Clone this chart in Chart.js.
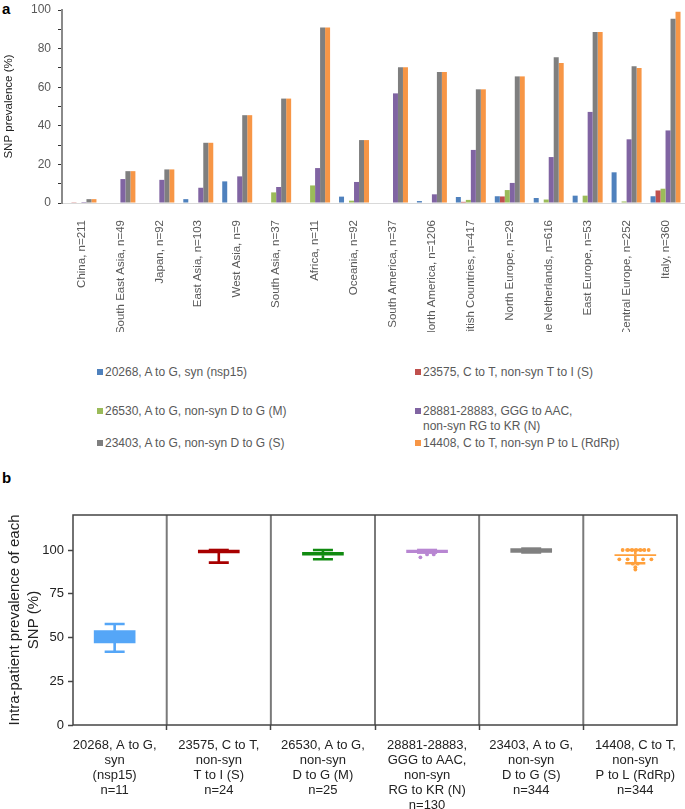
<!DOCTYPE html>
<html>
<head>
<meta charset="utf-8">
<script src="https://cdn.jsdelivr.net/npm/chart.js@4.4.1/dist/chart.umd.min.js"></script>
<style>
  body { margin: 0; background: #fff; width: 685px; height: 809px; position: relative; overflow: hidden;
         font-family: "Liberation Sans", Arial, sans-serif; }
  .panel { position: absolute; left: 0; width: 685px; }
  .tag { position: absolute; left: 2px; font-weight: bold; font-size: 15px; color: #000; }
  .lg { position: absolute; font-size: 12px; color: #595959; line-height: 15px; white-space: nowrap; }
  .lg i { position: absolute; left: -8px; top: 4px; width: 6px; height: 6px; }
</style>
</head>
<body>
<div class="tag" style="top:0">a</div>
<div class="tag" style="top:469px">b</div>
<div class="panel" style="top:0;height:332px"><canvas id="chartA"></canvas></div>
<div id="legend"></div>
<div class="panel" style="top:480px;height:329px"><canvas id="chartB"></canvas></div>

<script>
// ── Panel a: SNP prevalence per region ──────────────────────────
const regions = ['China, n=211', 'South East Asia, n=49', 'Japan, n=92', 'East Asia, n=103',
  'West Asia, n=9', 'South Asia, n=37', 'Africa, n=11', 'Oceania, n=92', 'South America, n=37',
  'North America, n=1206', 'British Countries, n=417', 'North Europe, n=29',
  'The Netherlands, n=616', 'East Europe, n=53', 'Central Europe, n=252', 'Italy, n=360'];

const snpLabels = [
  ['20268, A to G, syn (nsp15)'],
  ['23575, C to T, non-syn T to I (S)'],
  ['26530, A to G, non-syn D to G (M)'],
  ['28881-28883, GGG to AAC,', 'non-syn RG to KR (N)'],
  ['23403, A to G, non-syn D to G (S)'],
  ['14408, C to T, non-syn P to L (RdRp)']
];
const snpColors = ['#4f81bd', '#c0504d', '#9bbb59', '#8064a2', '#7f7f7f', '#f79646'];

const snp20268 = [0, 0, 0, 2, 11.2, 0, 0, 3.3, 0, 1, 3.1, 3.5, 2.6, 3.8, 15.9, 3.5];
const snp23575 = [0.4, 0, 0, 0, 0, 0, 0, 0, 0, 0, 0.6, 3.4, 0, 0, 0, 6.5];
const snp26530 = [0, 0, 0, 0, 0, 5.5, 9.1, 1.2, 0, 0, 1.6, 6.7, 1.8, 3.8, 0.8, 7.4];
const snp28881 = [0.5, 12.4, 12, 7.9, 13.8, 8.3, 18.1, 10.9, 56.8, 4.5, 27.5, 10.4, 23.8, 47.2, 33, 37.6];
const snp23403 = [2, 16.5, 17.4, 31.2, 45.5, 54.1, 90.9, 32.6, 70.3, 67.9, 58.9, 65.6, 75.5, 88.6, 70.8, 95.5];
const snp14408 = [2, 16.5, 17.4, 31.2, 45.5, 54.1, 90.9, 32.6, 70.3, 67.9, 58.9, 65.6, 72.5, 88.6, 70, 99.1];
const series = [snp20268, snp23575, snp26530, snp28881, snp23403, snp14408];

// ── Panel b: intra-patient prevalence ───────────────────────────
const snpCats = [
  ['20268, A to G,', 'syn', '(nsp15)', 'n=11'],
  ['23575, C to T,', 'non-syn', 'T to I (S)', 'n=24'],
  ['26530, A to G,', 'non-syn', 'D to G (M)', 'n=25'],
  ['28881-28883,', 'GGG to AAC,', 'non-syn', 'RG to KR (N)', 'n=130'],
  ['23403, A to G,', 'non-syn', 'D to G (S)', 'n=344'],
  ['14408, C to T,', 'non-syn', 'P to L (RdRp)', 'n=344']
];
const boxColors   = ['#55a6f7', '#a80000', '#108a10', '#b886d2', '#808080', '#ffa03c'];
const boxLow      = [46.9, 98.3, 97.0, 98.5, 98.6, 96.7];
const boxHigh     = [53.9, 100, 98.7, 100, 100.8, 97.4];
const whiskerLow  = [41.9, 92.8, 94.7, 98.5, 98.6, 92.4];
const whiskerHigh = [57.7, 100, 100, 100, 100.8, 100];
const yTicksB     = [0, 25, 50, 75, 100];

const purpleDotX = [2.936, 3.0, 3.064];
const purpleDotY = [95.8, 97.5, 97.5];
const orangeDotX = [4.878, 4.926, 4.968, 5.007, 5.048, 5.087, 5.128,
                    4.846, 4.926, 5.074, 5.154, 4.975, 5.023, 5.0, 5.0];
const orangeDotY = [100, 100, 100, 100, 100, 100, 100,
                    94.7, 94.7, 94.7, 94.7, 92.2, 92.2, 90.2, 88.8];

// legend (html, two columns like the original)
const legendRowTop = [365, 404, 436];
document.getElementById('legend').innerHTML = snpLabels.map((lab, i) => `
  <div class="lg" style="left:${i % 2 ? 423 : 105}px;top:${legendRowTop[Math.floor(i / 2)]}px">
    <i style="background:${snpColors[i]}"></i>${lab.join('<br>')}
  </div>`).join('');

const fontA = { family: '"Liberation Sans", Arial, sans-serif', size: 11.5 };

new Chart(document.getElementById('chartA'), {
  type: 'bar',
  data: {
    labels: regions,
    datasets: series.map((d, i) => ({
      label: snpLabels[i].join(' '), data: d, backgroundColor: snpColors[i],
      categoryPercentage: 0.77, barPercentage: 1, borderWidth: 0
    }))
  },
  options: {
    responsive: true, maintainAspectRatio: false, animation: false,
    layout: { padding: { top: 10, left: 0, right: 0, bottom: 0 } },
    plugins: { legend: { display: false }, tooltip: { enabled: false } },
    scales: {
      x: {
        grid: { display: false },
        border: { color: '#d9d9d9', width: 1 },
        ticks: { minRotation: 90, maxRotation: 90, autoSkip: false, color: '#595959', font: fontA, padding: 9 },
        afterFit: s => { s.height = 129; s.paddingLeft = 0; s.paddingRight = 0; }
      },
      y: {
        min: 0, max: 100,
        ticks: { stepSize: 10, color: '#595959', font: { ...fontA, size: 12 }, padding: 7,
                 callback: v => (v % 20 === 0 ? v : '') },
        grid: { drawOnChartArea: false, tickLength: 4, tickColor: '#333', tickWidth: 1 },
        border: { color: '#8a8a8a', width: 2 },
        title: { display: true, text: 'SNP prevalence (%)', color: '#222', font: { ...fontA, size: 11.5 },
                 padding: { top: 2, bottom: 0 } },
        afterFit: s => { s.width = 62; s.paddingTop = 0; s.paddingBottom = 0; }
      }
    }
  }
});

// frame, separators and whiskers for panel b
const boxExtras = {
  id: 'boxExtras',
  beforeDatasetsDraw(chart) {
    const { ctx, chartArea: a, scales: { x } } = chart;
    ctx.save();
    ctx.strokeStyle = '#7a7a7a'; ctx.lineWidth = 2;
    for (let i = 0; i < snpCats.length - 1; i++) {
      const px = x.getPixelForValue(i + 0.5);
      ctx.beginPath(); ctx.moveTo(px, a.top); ctx.lineTo(px, a.bottom); ctx.stroke();
    }
    ctx.strokeStyle = '#444'; ctx.lineWidth = 1.5;
    ctx.strokeRect(a.left, a.top, a.right - a.left, a.bottom - a.top);
    ctx.restore();
  },
  afterDatasetsDraw(chart) {
    const { ctx, scales: { x, y } } = chart;
    ctx.save();
    ctx.lineWidth = 2.6;
    boxLow.forEach((lo, i) => {
      const cx = x.getPixelForValue(i);
      ctx.strokeStyle = boxColors[i];
      const segs = [[boxHigh[i], whiskerHigh[i]], [lo, whiskerLow[i]]];
      segs.forEach(([from, to]) => {
        ctx.beginPath();
        ctx.moveTo(cx, y.getPixelForValue(from)); ctx.lineTo(cx, y.getPixelForValue(to));
        ctx.moveTo(cx - 10, y.getPixelForValue(to)); ctx.lineTo(cx + 10, y.getPixelForValue(to));
        ctx.stroke();
      });
    });
    ctx.restore();
  }
};

const fontB = { family: '"Liberation Sans", Arial, sans-serif', size: 13 };

new Chart(document.getElementById('chartB'), {
  type: 'bar',
  data: {
    datasets: [
      { type: 'bar', data: boxLow.map((lo, i) => ({ x: i, y: [lo, boxHigh[i]] })),
        backgroundColor: boxColors, barThickness: 41, borderWidth: 0 },
      { type: 'scatter', data: purpleDotX.map((v, i) => ({ x: v, y: purpleDotY[i] })),
        pointBackgroundColor: boxColors[3], pointBorderWidth: 0, pointRadius: 1.9 },
      { type: 'scatter', data: orangeDotX.map((v, i) => ({ x: v, y: orangeDotY[i] })),
        pointBackgroundColor: boxColors[5], pointBorderWidth: 0, pointRadius: 1.9 }
    ]
  },
  options: {
    responsive: true, maintainAspectRatio: false, animation: false,
    layout: { padding: { top: 35, left: 0, right: 8, bottom: 0 } },
    plugins: { legend: { display: false }, tooltip: { enabled: false } },
    scales: {
      x: {
        type: 'linear', min: -0.4, max: 5.4, offset: false,
        afterBuildTicks: s => { s.ticks = snpCats.map((_, i) => ({ value: i })); },
        ticks: { autoSkip: false, maxRotation: 0, color: '#222', padding: 8,
                 font: { ...fontB, lineHeight: 1.16 }, callback: v => snpCats[v] },
        grid: { drawOnChartArea: false, tickLength: 5, tickColor: '#444', tickWidth: 1.5 },
        border: { display: false },
        afterFit: s => { s.height = 84; s.paddingLeft = 0; s.paddingRight = 0; }
      },
      y: {
        min: 0, max: 120, offset: false,
        afterBuildTicks: s => { s.ticks = yTicksB.map(v => ({ value: v })); },
        ticks: { color: '#222', font: fontB, padding: 4 },
        grid: { drawOnChartArea: false, tickLength: 5, tickColor: '#444', tickWidth: 1.5 },
        border: { display: false },
        title: { display: true, text: ['Intra-patient prevalence of each', 'SNP (%)'], color: '#222',
                 font: { ...fontB, size: 15, lineHeight: 1.3 }, padding: { top: 5, bottom: 0 } },
        afterFit: s => { s.width = 73; s.paddingTop = 0; s.paddingBottom = 0; }
      }
    }
  },
  plugins: [boxExtras]
});
</script>
</body>
</html>
